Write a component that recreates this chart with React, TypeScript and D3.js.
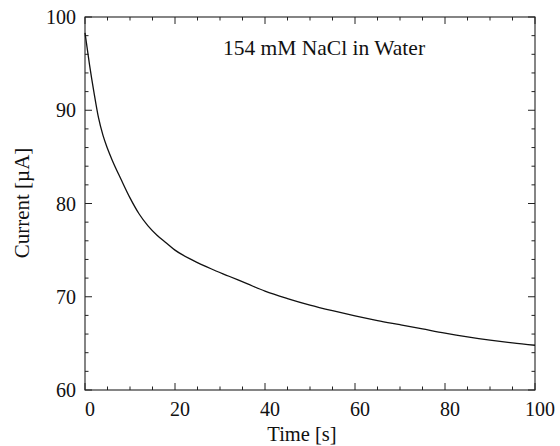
import React from 'react';
import * as d3 from 'd3';

// current decay readings
const times = [0, 1, 2, 3, 4, 5, 6, 8, 10, 12, 14, 16, 18, 20, 24, 28, 32, 36, 40, 45, 50, 55, 60, 65, 70, 75, 80, 85, 90, 95, 100];
const current = [98.3, 94.9, 91.9, 89.2, 87.3, 85.9, 84.7, 82.6, 80.6, 78.9, 77.6, 76.6, 75.8, 75.0, 73.9, 73.0, 72.2, 71.4, 70.6, 69.8, 69.1, 68.5, 67.95, 67.45, 67.0, 66.55, 66.1, 65.7, 65.35, 65.05, 64.8];
const xTicks = [0, 20, 40, 60, 80, 100];
const yTicks = [60, 70, 80, 90, 100];

const W = 560;
const H = 446;
const m = { left: 85, right: 25, top: 17, bottom: 56 };
const font = '"Liberation Serif", "Times New Roman", serif';

export default function App() {
  const x = d3.scaleLinear().domain([0, 100]).range([m.left, W - m.right]);
  const y = d3.scaleLinear().domain([60, 100]).range([H - m.bottom, m.top]);
  const [x0, x1] = x.range();
  const [y0, y1] = y.range();

  const line = d3
    .line<number>()
    .x((_, i) => x(times[i]))
    .y(d => y(d))
    .curve(d3.curveMonotoneX);

  const xMinor = d3.range(0, 101, 5);
  const yMinor = d3.range(60, 101, 2);

  return (
    <svg width={W} height={H} style={{ position: 'absolute', left: 0, top: 0, background: '#fff' }} fontFamily={font}>
      <g stroke="#222" strokeWidth={1}>
        {xMinor.map(t => {
          const len = t % 20 === 0 ? 7 : 3.5;
          return (
            <g key={'x' + t}>
              <line x1={x(t)} x2={x(t)} y1={y0} y2={y0 - len} />
              <line x1={x(t)} x2={x(t)} y1={y1} y2={y1 + len} />
            </g>
          );
        })}
        {yMinor.map(v => {
          const len = v % 10 === 0 ? 7 : 3.5;
          return (
            <g key={'y' + v}>
              <line x1={x0} x2={x0 + len} y1={y(v)} y2={y(v)} />
              <line x1={x1} x2={x1 - len} y1={y(v)} y2={y(v)} />
            </g>
          );
        })}
      </g>
      <rect x={x0} y={y1} width={x1 - x0} height={y0 - y1} fill="none" stroke="#222" strokeWidth={1.1} />
      <path d={line(current) || ''} fill="none" stroke="#111" strokeWidth={1.3} />
      {xTicks.map(t => (
        <text key={t} x={x(t) + 5} y={416} textAnchor="middle" fontSize={20} fill="#111">
          {t}
        </text>
      ))}
      {yTicks.map(v => (
        <text key={v} x={76} y={y(v) + 7} textAnchor="end" fontSize={20} fill="#111">
          {v}
        </text>
      ))}
      <text x={324} y={55} textAnchor="middle" fontSize={21.5} fill="#111">
        154 mM NaCl in Water
      </text>
      <text x={302} y={441} textAnchor="middle" fontSize={20.5} fill="#111">
        Time [s]
      </text>
      <text transform="translate(29,203) rotate(-90)" textAnchor="middle" fontSize={21} fill="#111">
        Current [µA]
      </text>
    </svg>
  );
}
